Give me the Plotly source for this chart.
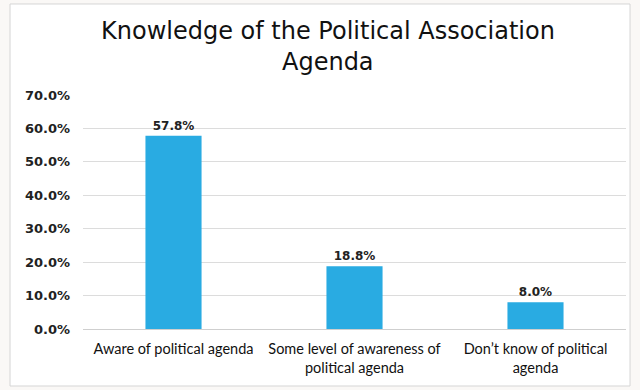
import plotly.graph_objects as go

categories = ["Aware of political agenda",
              "Some level of awareness of<br>political agenda",
              "Don\u2019t know of political<br>agenda"]
values = [57.8, 18.8, 8.0]
tick_vals = [0, 10, 20, 30, 40, 50, 60, 70]
tick_text = [f"{v:.1f}%" for v in tick_vals]
title_lines = ["Knowledge of the Political Association", "Agenda"]
bar_color = "#29ABE2"

fig = go.Figure(go.Bar(
    x=categories, y=values,
    marker=dict(color=bar_color, line=dict(width=0)),
    width=0.31,
    text=[f"{v:.1f}%" for v in values],
    textposition="outside",
    textfont=dict(family="DejaVu Sans", size=12, color="#222", weight="bold"),
    cliponaxis=False,
))

title_annotations = [
    dict(text=line, xref="paper", yref="paper", x=0.452, y=y,
         xanchor="center", yanchor="middle", showarrow=False,
         font=dict(family="DejaVu Sans", size=24, color="#111"))
    for line, y in zip(title_lines, [1.275, 1.140])
]

fig.update_layout(
    width=640, height=390,
    margin=dict(l=83, r=14, t=95, b=61),
    paper_bgcolor="#faf8f6",
    plot_bgcolor="white",
    showlegend=False,
    bargap=0.69,
    annotations=title_annotations,
    yaxis=dict(range=[0, 70], tickvals=tick_vals, ticktext=tick_text,
               showgrid=True, gridcolor="#dcdcdc", gridwidth=1,
               zeroline=False, ticks="", ticklabelstandoff=12,
               tickfont=dict(family="DejaVu Sans", size=13, color="#222", weight="bold")),
    xaxis=dict(showline=True, linecolor="#cfcfcf", linewidth=1,
               ticks="", ticklabelstandoff=7,
               tickfont=dict(family="Lato", size=14.5, color="#111")),
    shapes=[dict(type="rect", xref="paper", yref="paper",
                 x0=-0.1344, x1=1.0074, y0=-0.2436, y1=1.389,
                 fillcolor="white", line=dict(color="#d5d5d5", width=1),
                 layer="below")],
)

fig.write_html("out.html")
